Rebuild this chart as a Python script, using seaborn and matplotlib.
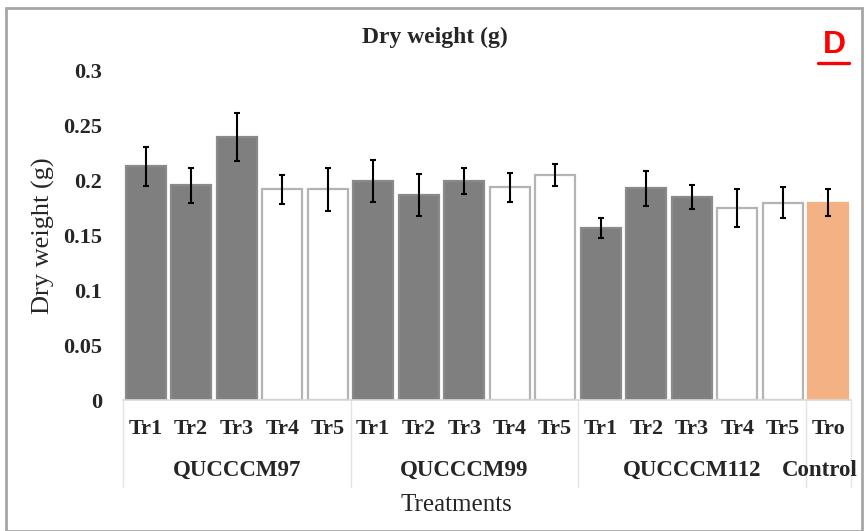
import matplotlib
matplotlib.use("Agg")
import matplotlib.pyplot as plt
import seaborn as sns
import numpy as np
import pandas as pd
from matplotlib.patches import Rectangle
from matplotlib.lines import Line2D
import matplotlib.transforms as mtransforms

# ---- data ----
treatments = ["Tr1", "Tr2", "Tr3", "Tr4", "Tr5",
              "Tr1", "Tr2", "Tr3", "Tr4", "Tr5",
              "Tr1", "Tr2", "Tr3", "Tr4", "Tr5",
              "Tro"]
groups = ["QUCCCM97", "QUCCCM99", "QUCCCM112", "Control"]
group_sizes = [5, 5, 5, 1]
dry_weight = [0.213, 0.196, 0.240, 0.192, 0.192,
              0.200, 0.187, 0.200, 0.194, 0.205,
              0.157, 0.193, 0.185, 0.175, 0.180,
              0.180]
errors = [0.018, 0.016, 0.022, 0.013, 0.020,
          0.019, 0.019, 0.012, 0.013, 0.010,
          0.009, 0.016, 0.011, 0.017, 0.014,
          0.012]
yticks = [0, 0.05, 0.1, 0.15, 0.2, 0.25, 0.3]
ytick_labels = ["0", "0.05", "0.1", "0.15", "0.2", "0.25", "0.3"]

# ---- styles ----
dark = "#7f7f7f"
white = "#ffffff"
orange = "#f4b183"
fills = [dark, dark, dark, white, white] * 3 + [orange]
edges = ["#8a8a8a", "#8a8a8a", "#8a8a8a", "#b4b4b4", "#b4b4b4"] * 3 + [orange]

sns.set_theme(style="white")
plt.rcParams["font.family"] = ["Liberation Serif", "DejaVu Serif"]

ids = [f"b{i}" for i in range(len(dry_weight))]
df = pd.DataFrame({"id": ids, "value": dry_weight})

fig = plt.figure(figsize=(8.66, 5.31), dpi=100)
ax = fig.add_axes([123 / 866, 1 - 400 / 531, (851 - 123) / 866, 329 / 531])

sns.barplot(data=df, x="id", y="value", hue="id", order=ids, hue_order=ids,
            palette=dict(zip(ids, fills)), legend=False, width=0.88,
            errorbar=None, saturation=1, ax=ax)
for patch, ec in zip(ax.patches, edges):
    patch.set_edgecolor(ec)
    patch.set_linewidth(1.6)

xpos = np.arange(len(dry_weight))
ax.errorbar(xpos, dry_weight, yerr=errors, fmt="none", ecolor="black",
            elinewidth=1.5, capsize=2.5, capthick=1.5, zorder=5)

ax.set_xlim(-0.5, len(dry_weight) - 0.5)
ax.set_ylim(0, 0.3)
ax.set_yticks(yticks)
ax.set_yticklabels(ytick_labels, fontsize=16, fontweight="bold")
ax.set_xticks(xpos)
ax.set_xticklabels(treatments, fontsize=16, fontweight="bold")
ax.tick_params(axis="y", length=0, pad=15)
ax.tick_params(axis="x", length=0, pad=14)
for s in ["top", "right", "left"]:
    ax.spines[s].set_visible(False)
ax.spines["bottom"].set_color("#d9d9d9")
ax.spines["bottom"].set_linewidth(1.2)
ax.set_xlabel("")
ax.set_ylabel("Dry weight (g)", fontsize=19)
ax.yaxis.set_label_coords(-0.093, 0.5)

# group labels and separators
trans = mtransforms.blended_transform_factory(ax.transData, ax.transAxes)
start = 0
bounds = [-0.5]
for g, n in zip(groups, group_sizes):
    center = start + (n - 1) / 2
    if g == "Control":
        fig.text(858 / 866, 1 - 470 / 531, g, ha="right", va="center",
                 fontsize=16.5, fontweight="bold")
    else:
        ax.text(center, -0.213, g, transform=trans, ha="center", va="center",
                fontsize=16.5, fontweight="bold", clip_on=False)
    start += n
    bounds.append(start - 0.5)
for b in bounds:
    ax.add_line(Line2D([b, b], [0, -0.265], transform=trans, color="#e3e3e3",
                       linewidth=1.0, clip_on=False))

fig.text(456 / 866, 1 - 505 / 531, "Treatments", ha="center", va="center",
         fontsize=18)

fig.text(435 / 866, 1 - 37 / 531, "Dry weight (g)", ha="center", va="center",
         fontsize=17, fontweight="bold")

# panel letter
fig.text(834 / 866, 1 - 45 / 531, "D", ha="center", va="center", color="red",
         fontsize=23, fontweight="bold", family="Liberation Sans")
fig.add_artist(Line2D([818 / 866, 849 / 866], [1 - 63 / 531, 1 - 63 / 531],
                      transform=fig.transFigure, color="red", linewidth=2.4))

# outer border
fig.add_artist(Rectangle((6 / 866, 0.5 / 531), (862 - 6) / 866, (523 - 0.5) / 531,
                         transform=fig.transFigure, fill=False,
                         edgecolor="#a6a6a6", linewidth=2))

fig.savefig("out.png", dpi=100)
